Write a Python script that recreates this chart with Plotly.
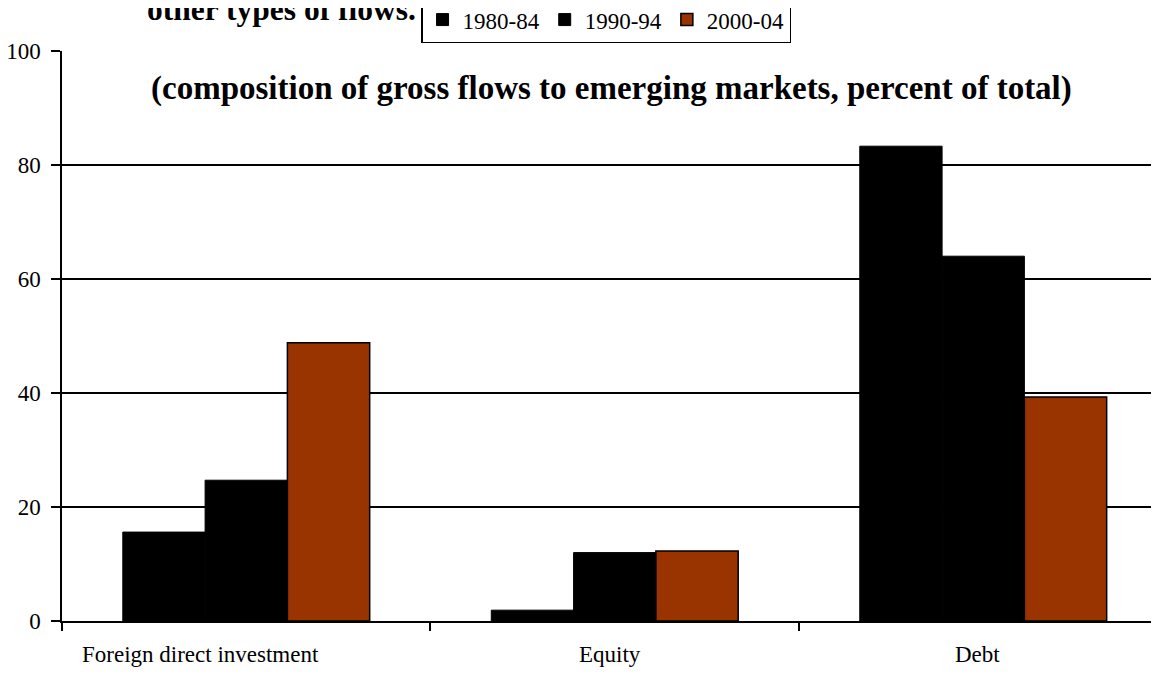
import plotly.graph_objects as go

categories = ["Foreign direct investment", "Equity", "Debt"]
periods = ["1980-84", "1990-94", "2000-04"]
values_1980_84 = [15.6, 1.9, 83.3]
values_1990_94 = [24.7, 12.0, 64.0]
values_2000_04 = [48.8, 12.3, 39.3]
y_ticks = [0, 20, 40, 60, 80, 100]

series = [values_1980_84, values_1990_94, values_2000_04]
fills = ["#000000", "#000000", "#993300"]
line_widths = [1, 1, 1.5]

SERIF = "Liberation Serif, Times New Roman, serif"

fig = go.Figure()
for name, vals, col, lw in zip(periods, series, fills, line_widths):
    fig.add_trace(go.Bar(
        x=categories, y=vals, name=name,
        marker=dict(color=col, line=dict(color="#000000", width=lw)),
    ))

label_shifts = [-46, -5, -6]
for cat, dx in zip(categories, label_shifts):
    fig.add_annotation(
        x=cat, xref="x", y=0, yref="paper", yanchor="top", xanchor="center",
        yshift=-19, xshift=dx, showarrow=False, text=cat,
        font=dict(family=SERIF, size=23, color="#000000"),
    )

fig.add_annotation(
    x=0.501, xref="paper", y=0.935, yref="paper", xanchor="center", yanchor="middle",
    showarrow=False,
    text="<b>(composition of gross flows to emerging markets, percent of total)</b>",
    font=dict(family=SERIF, size=33, color="#000000"),
)
fig.add_annotation(
    x=0.076, xref="paper", y=1.038, yref="paper", xanchor="left", yanchor="bottom",
    showarrow=False,
    text="<b>other types of flows.</b>",
    font=dict(family=SERIF, size=31.5, color="#000000"),
)

fig.update_layout(
    width=1151, height=669,
    margin=dict(l=54, r=0, t=43, b=56, autoexpand=False),
    paper_bgcolor="#ffffff", plot_bgcolor="#ffffff",
    barmode="group", bargap=0.33, bargroupgap=0,
    font=dict(family=SERIF, size=23, color="#000000"),
    showlegend=True,
    legend=dict(
        orientation="h", x=0.3273, xanchor="left", y=1.014, yanchor="bottom",
        bgcolor="#ffffff", bordercolor="#000000", borderwidth=1.5,
        font=dict(family=SERIF, size=23, color="#000000"),
        title=dict(text=" ", side="top", font=dict(size=22)),
        traceorder="normal",
    ),
    xaxis=dict(
        type="category", categoryorder="array", categoryarray=categories,
        range=[-0.5, 2.477], tickson="boundaries", ticks="outside", ticklen=8,
        tickwidth=1.5, tickcolor="#000000", showline=True, linecolor="#000000",
        linewidth=1.5, showgrid=False, showticklabels=False, zeroline=False,
        fixedrange=True,
    ),
    yaxis=dict(
        range=[0, 100], tickvals=y_ticks, ticks="outside", ticklen=9,
        tickwidth=1.5, tickcolor="#000000", showline=True, linecolor="#000000",
        linewidth=1.5, showgrid=True, gridcolor="#000000", gridwidth=1.5,
        zeroline=False, ticklabelstandoff=6,
        tickfont=dict(family=SERIF, size=23, color="#000000"),
        fixedrange=True,
    ),
)

fig.write_html("out.html")
